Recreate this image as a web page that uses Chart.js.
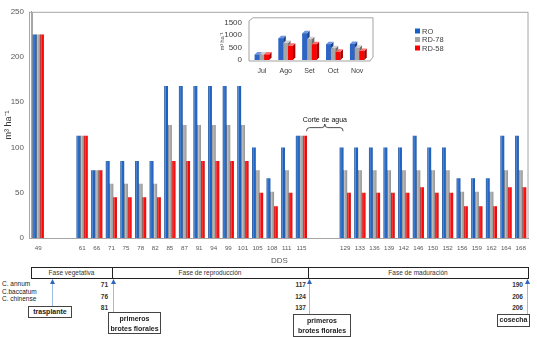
<!DOCTYPE html>
<html><head><meta charset="utf-8">
<script src="https://cdn.jsdelivr.net/npm/chart.js@4"></script>
<style>
html,body{margin:0;padding:0;background:#fff;}
body{width:537px;height:337px;position:relative;overflow:hidden;font-family:'Liberation Sans',Arial,sans-serif;}
.ph{position:absolute;top:267px;height:11px;font-size:6.5px;color:#333;text-align:center;line-height:11px;}
.num{position:absolute;width:30px;text-align:right;font-size:6.5px;font-weight:bold;color:#333;line-height:1;}
.sp{position:absolute;left:2px;font-size:6.5px;color:#222;line-height:1;white-space:nowrap;}
.lb{position:absolute;border:1px solid #444;background:#fff;font-size:7px;font-weight:bold;color:#222;text-align:center;box-sizing:border-box;line-height:10px;white-space:nowrap;}
</style></head>
<body>
<canvas id="main" width="537" height="266" style="position:absolute;left:0;top:0;"></canvas>
<canvas id="inset" width="170" height="72" style="position:absolute;left:212px;top:10px;"></canvas>

<!-- phase timeline -->
<div style="position:absolute;left:31px;top:267px;width:496px;height:10px;border:1px solid #222;"></div>
<div style="position:absolute;left:112px;top:267px;width:1px;height:12px;background:#222;"></div>
<div style="position:absolute;left:308px;top:267px;width:1px;height:12px;background:#222;"></div>
<div class="ph" style="left:31px;width:81px;">Fase vegetativa</div>
<div class="ph" style="left:112px;width:196px;">Fase de reproducción</div>
<div class="ph" style="left:308px;width:220px;">Fase de maduración</div>

<div class="sp" style="top:281px;">C. annum</div>
<div class="sp" style="top:289px;">C.baccatum</div>
<div class="sp" style="top:296px;">C. chinense</div>

<div class="num" style="left:78px;top:282px;">71</div>
<div class="num" style="left:78px;top:294px;">76</div>
<div class="num" style="left:78px;top:305px;">81</div>
<div class="num" style="left:276px;top:282px;">117</div>
<div class="num" style="left:276px;top:294px;">124</div>
<div class="num" style="left:276px;top:305px;">137</div>
<div class="num" style="left:493px;top:282px;">190</div>
<div class="num" style="left:493px;top:294px;">206</div>
<div class="num" style="left:493px;top:305px;">206</div>

<svg width="537" height="337" style="position:absolute;left:0;top:0;pointer-events:none;">
  <g stroke="#9dbde6" stroke-width="1">
    <line x1="52.5" y1="283" x2="52.5" y2="306"/>
    <line x1="113.5" y1="283" x2="113.5" y2="312"/>
    <line x1="309.5" y1="283" x2="309.5" y2="314"/>
    <line x1="527.5" y1="283" x2="527.5" y2="314"/>
  </g>
  <g fill="#2f64c0">
    <polygon points="52.5,279 50,284 55,284"/>
    <polygon points="113.5,279 111,284 116,284"/>
    <polygon points="309.5,279 307,284 312,284"/>
    <polygon points="527.5,279 525,284 530,284"/>
  </g>
</svg>

<div class="lb" style="left:28px;top:306px;width:44px;height:12px;">trasplante</div>
<div class="lb" style="left:108px;top:312px;width:53px;height:22px;padding-top:1px;">primeros<br>brotes florales</div>
<div class="lb" style="left:293px;top:314px;width:58px;height:23px;padding-top:1px;">primeros<br>brotes florales</div>
<div class="lb" style="left:497px;top:314px;width:33px;height:13px;">cosecha</div>

<script>
// ---------- data ----------
const categories = ['49','','','61','66','71','75','78','82','85','87','91','94','99','101','105','108','111','115','','','129','133','136','139','142','146','150','152','156','159','162','164','168'];
const seriesNames = ['RO','RD-78','RD-58'];
const ro   = [225,null,null,113,75,85,85,85,85,168,168,168,168,168,168,100,66,100,113,null,null,100,100,100,100,100,113,100,100,66,66,66,113,113];
const rd78 = [225,null,null,113,75,60,60,60,60,125,125,125,125,125,125,75,51,75,113,null,null,75,75,75,75,75,75,75,75,51,51,51,75,75];
const rd58 = [225,null,null,113,75,45,45,45,45,85,85,85,85,85,85,50,35,50,113,null,null,50,50,50,50,50,56,50,50,35,35,35,56,56];
const yTicks = [0,50,100,150,200,250];

const months = ['Jul','Ago','Set','Oct','Nov'];
const monthRO   = [225,880,1075,640,650];
const monthRD78 = [225,690,840,470,490];
const monthRD58 = [225,570,640,335,360];
const insetTicks = [0,500,1000,1500];

const colors = ['#1560c8','#a6a6a6','#ff0000'];

Chart.defaults.font.family = "'Liberation Sans', Arial, sans-serif";
Chart.defaults.color = '#595959';

// ---------- main chart ----------
const mainPlugin = {
  id:'mainDecor',
  beforeDatasetsDraw(chart){
    const {ctx, chartArea:a} = chart;
    ctx.save();
    ctx.strokeStyle='#a6a6a6'; ctx.lineWidth=1;
    ctx.strokeRect(a.left-1.5, a.top+0.5, a.right-a.left+1.5, a.bottom-a.top);
    ctx.beginPath(); ctx.moveTo(a.left+1.5,a.top+0.5); ctx.lineTo(a.left+1.5,a.bottom); ctx.stroke();
    ctx.restore();
  },
  afterDatasetsDraw(chart){
    const ctx = chart.ctx;
    ctx.save();
    chart.data.datasets.forEach((ds,i)=>{
      chart.getDatasetMeta(i).data.forEach(el=>{
        const p = el.getProps(['x','y','base','width'],true);
        if(!isFinite(p.y)||!isFinite(p.base)) return;
        const l = p.x-p.width/2;
        const g = ctx.createLinearGradient(l,0,l+p.width,0);
        g.addColorStop(0,'rgba(0,0,0,0.35)');
        g.addColorStop(0.3,'rgba(255,255,255,0.3)');
        g.addColorStop(0.6,'rgba(255,255,255,0)');
        g.addColorStop(1,'rgba(0,0,0,0.3)');
        ctx.fillStyle=g;
        ctx.fillRect(l,p.y,p.width,p.base-p.y);
      });
    });
    // legend
    ctx.font = "7.5px 'Liberation Sans', Arial, sans-serif";
    ctx.textBaseline='middle';
    seriesNames.forEach((n,i)=>{
      const y = 31 + i*8.5;
      ctx.fillStyle = colors[i];
      ctx.fillRect(415, y-2.5, 5, 5);
      ctx.fillStyle = '#404040';
      ctx.fillText(n, 422, y+0.5);
    });
    // "Corte de agua" annotation
    const xs = chart.scales.x, ys = chart.scales.y;
    const x1 = xs.getPixelForValue(18.35), x2 = xs.getPixelForValue(20.85);
    const xm = (x1+x2)/2;
    const yb = ys.getPixelForValue(118), ysh = ys.getPixelForValue(122), yp = ys.getPixelForValue(126);
    ctx.strokeStyle='#222'; ctx.lineWidth=0.8;
    ctx.beginPath();
    ctx.moveTo(x1,yb); ctx.quadraticCurveTo(x1,ysh,x1+3,ysh);
    ctx.lineTo(xm-3,ysh); ctx.quadraticCurveTo(xm,ysh,xm,yp);
    ctx.quadraticCurveTo(xm,ysh,xm+3,ysh);
    ctx.lineTo(x2-3,ysh); ctx.quadraticCurveTo(x2,ysh,x2,yb);
    ctx.stroke();
    ctx.fillStyle='#111';
    ctx.font = "7px 'Liberation Sans', Arial, sans-serif";
    ctx.textAlign='center';
    ctx.fillText('Corte de agua', xm, ys.getPixelForValue(130));
    ctx.restore();
  }
};

new Chart(document.getElementById('main'), {
  type:'bar',
  data:{
    labels: categories,
    datasets:[
      {label:seriesNames[0], data:ro,   backgroundColor:colors[0]},
      {label:seriesNames[1], data:rd78, backgroundColor:colors[1]},
      {label:seriesNames[2], data:rd58, backgroundColor:colors[2]}
    ]
  },
  options:{
    responsive:false, animation:false,
    datasets:{bar:{barPercentage:1, categoryPercentage:0.76}},
    layout:{padding:{top:5,right:9,left:0,bottom:0}},
    plugins:{legend:{display:false}, tooltip:{enabled:false}},
    scales:{
      x:{
        grid:{display:false, drawTicks:false},
        border:{color:'#8c8c8c'},
        ticks:{font:{size:6.2}, padding:7, maxRotation:0, autoSkip:false, color:'#595959'},
        title:{display:true, text:'DDS', font:{size:8}, color:'#595959', padding:{top:0,bottom:0}},
        afterFit(s){ s.height = 28; }
      },
      y:{
        min:0, max:250,
        grid:{display:false, drawTicks:false},
        border:{color:'#a6a6a6'},
        afterBuildTicks(s){ s.ticks = yTicks.map(v=>({value:v})); },
        ticks:{font:{size:8}, padding:7, color:'#595959'},
        title:{display:true, text:'m³ ha⁻¹', font:{size:9}, color:'#333', padding:{top:3,bottom:0}},
        afterFit(s){ s.width = 31; }
      }
    }
  },
  plugins:[mainPlugin]
});

// ---------- inset chart ----------
const insetColors = ['#2e64c4','#a6a6a6','#ff0000'];
const faces = [
  {top:'#6d97e0', side:'#1b3f88'},
  {top:'#d0d0d0', side:'#6e6e6e'},
  {top:'#ff7070', side:'#a80000'}
];
const insetPlugin = {
  id:'inset3d',
  beforeDatasetsDraw(chart){
    const {ctx, chartArea:a} = chart;
    ctx.save();
    ctx.strokeStyle='#8c8c8c'; ctx.lineWidth=0.8;
    ctx.beginPath();
    ctx.moveTo(a.left-1,a.bottom+1); ctx.lineTo(a.left-1,a.top-2); ctx.lineTo(a.left+3,a.top-5);
    ctx.lineTo(a.right+4,a.top-5); ctx.lineTo(a.right+4,a.bottom-3);
    ctx.moveTo(a.left-1,a.bottom+1); ctx.lineTo(a.right+1,a.bottom+1); ctx.lineTo(a.right+4,a.bottom-3);
    ctx.stroke();
    ctx.restore();
  },
  afterDatasetsDraw(chart){
    // shade each library-drawn bar with a 3-D top and side, series by series (left to right)
    const ctx = chart.ctx, d = 2.5;
    ctx.save();
    chart.data.datasets.forEach((ds,i)=>{
      const f = faces[i];
      chart.getDatasetMeta(i).data.forEach(el=>{
        const p = el.getProps(['x','y','base','width'],true);
        if(!isFinite(p.y)) return;
        const l = p.x-p.width/2, r = p.x+p.width/2;
        ctx.fillStyle = insetColors[i];
        ctx.fillRect(l,p.y,p.width,p.base-p.y);
        ctx.fillStyle = f.side;
        ctx.beginPath(); ctx.moveTo(r,p.y); ctx.lineTo(r+d,p.y-d); ctx.lineTo(r+d,p.base-d); ctx.lineTo(r,p.base); ctx.closePath(); ctx.fill();
        ctx.fillStyle = f.top;
        ctx.beginPath(); ctx.moveTo(l,p.y); ctx.lineTo(l+d,p.y-d); ctx.lineTo(r+d,p.y-d); ctx.lineTo(r,p.y); ctx.closePath(); ctx.fill();
      });
    });
    ctx.restore();
  }
};

new Chart(document.getElementById('inset'), {
  type:'bar',
  data:{
    labels: months,
    datasets:[
      {label:seriesNames[0], data:monthRO,   backgroundColor:insetColors[0]},
      {label:seriesNames[1], data:monthRD78, backgroundColor:insetColors[1]},
      {label:seriesNames[2], data:monthRD58, backgroundColor:insetColors[2]}
    ]
  },
  options:{
    responsive:false, animation:false,
    datasets:{bar:{barPercentage:1, categoryPercentage:0.6}},
    layout:{padding:{top:12,right:13,left:0,bottom:0}},
    plugins:{legend:{display:false}, tooltip:{enabled:false}},
    scales:{
      x:{
        grid:{display:false, drawTicks:false},
        border:{display:false},
        ticks:{font:{size:7}, padding:7, color:'#404040'},
        afterFit(s){ s.height = 22; }
      },
      y:{
        min:0, max:1500,
        grid:{display:false, drawTicks:false},
        border:{display:false},
        afterBuildTicks(s){ s.ticks = insetTicks.map(v=>({value:v})); },
        ticks:{font:{size:8}, padding:8, color:'#404040', autoSkip:false, callback:(v)=>String(v)},
        title:{display:true, text:'m³ ha⁻¹', font:{size:5.5}, color:'#404040', padding:{top:7,bottom:0}},
        afterFit(s){ s.width = 38; }
      }
    }
  },
  plugins:[insetPlugin]
});
</script>
</body></html>
